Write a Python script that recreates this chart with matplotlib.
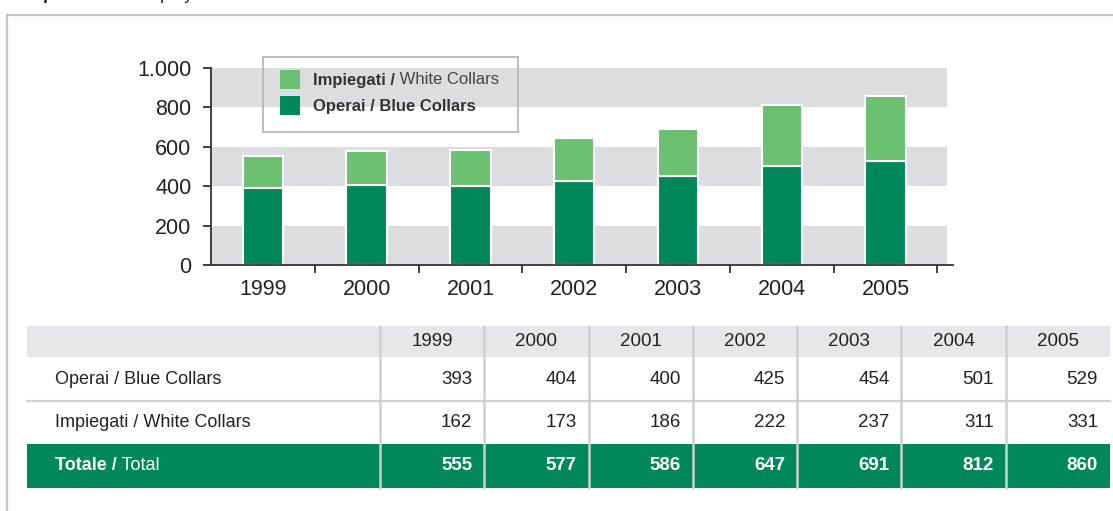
"""Employees by category, 1999-2005: stacked bars plus summary table."""
import matplotlib
matplotlib.use('Agg')
import matplotlib.pyplot as plt
import matplotlib.ticker as mticker
from matplotlib.patches import Rectangle

plt.rcParams['font.family'] = ['Liberation Sans', 'DejaVu Sans']

years = ["1999", "2000", "2001", "2002", "2003", "2004", "2005"]
operai = [393, 404, 400, 425, 454, 501, 529]
impiegati = [162, 173, 186, 222, 237, 311, 331]
totale = [555, 577, 586, 647, 691, 812, 860]
y_ticks = [0, 200, 400, 600, 800, 1000]

DARK = "#00885a"
LIGHT = "#6cc072"
BAND = "#dcdddf"
HEAD = "#e6e7e9"
SEP = "#cfd0d2"
TXT = "#222222"

W, H = 1113, 511
fig = plt.figure(figsize=(W / 100, H / 100), dpi=100)


def pixel_axes(z):
    """Full-figure axes measured in pixels from the top-left corner."""
    a = fig.add_axes([0, 0, 1, 1], zorder=z)
    a.set_xlim(0, W)
    a.set_ylim(H, 0)
    a.axis("off")
    a.patch.set_alpha(0)
    return a


ov = pixel_axes(0)

# panel frame
ov.plot([7, 7, W + 5], [H + 5, 15, 15], color="#c6c6c6", lw=1.6,
        solid_joinstyle="miter")

# title above the panel, cut by the top edge as in the source
t = fig.text(25 / W, 1 + 1 / H, "Dipendenti /", fontsize=13, fontweight="bold",
             color=TXT, va="baseline")
ov.annotate(" Employees", xy=(1, 0), xycoords=t, fontsize=13, color=TXT,
            va="bottom", annotation_clip=False)

# ---- bar chart ----
ax = fig.add_axes([211 / W, 1 - 265 / H, (953 - 211) / W, (265 - 68) / H], zorder=1)
ax.patch.set_alpha(0)
x = list(range(len(years)))
for lo in (0, 400, 800):
    ax.axhspan(lo, lo + 200, xmin=0, xmax=0.992, color=BAND, lw=0, zorder=0)
ax.bar(x, operai, width=0.39, color=DARK, edgecolor="white", lw=1.5, zorder=2)
ax.bar(x, impiegati, bottom=operai, width=0.39, color=LIGHT, edgecolor="white",
       lw=1.5, zorder=2)

ax.set_xlim(-0.5, 6.65)
ax.set_ylim(0, 1000)
ax.set_yticks(y_ticks)
ax.yaxis.set_major_formatter(mticker.FuncFormatter(
    lambda v, _: f"{v:,.0f}".replace(",", ".")))
ax.set_xticks([i + 0.5 for i in x])
ax.set_xticklabels([])
ax.set_xticks(x, minor=True)
ax.set_xticklabels(years, minor=True)
ax.tick_params(axis="x", which="minor", length=0, pad=10, labelsize=15.5,
               labelcolor=TXT)
ax.tick_params(axis="x", which="major", length=6, width=1.3, color="#333333",
               direction="out")
ax.tick_params(axis="y", length=6, width=1.3, color="#333333", pad=8,
               labelsize=15.5, labelcolor=TXT)
ax.spines[["top", "right"]].set_visible(False)
for s in ("left", "bottom"):
    ax.spines[s].set_linewidth(1.3)
    ax.spines[s].set_color("#333333")

# ---- legend (drawn by hand for mixed font weights) ----
lg = pixel_axes(3)
lg.add_patch(Rectangle((263, 57), 255, 75, fill=False, ec="#b9b9b9", lw=1.3))
lg.add_patch(Rectangle((280, 70), 20, 19, color=LIGHT, lw=0))
lg.add_patch(Rectangle((280, 96), 20, 19, color=DARK, lw=0))
l1 = lg.text(313, 80, "Impiegati /", fontsize=12, fontweight="bold",
             color="#333333", va="center")
lg.annotate(" White Collars", xy=(1, 0), xycoords=l1, fontsize=12,
            color="#444444", va="bottom")
lg.text(313, 107, "Operai / Blue Collars", fontsize=12, fontweight="bold",
        color="#333333", va="center")

# ---- table ----
left, lab_right, right = 27, 380, 1110
col_w = (right - lab_right) / len(years)
row_y = [326, 357, 401, 444, 488]
col_x = [lab_right + i * col_w for i in range(len(years) + 1)]

ov.add_patch(Rectangle((left, row_y[0]), right - left, row_y[1] - row_y[0],
                       color=HEAD, lw=0))
ov.add_patch(Rectangle((left, row_y[3]), right - left, row_y[4] - row_y[3],
                       color=DARK, lw=0))
ov.plot([left, right], [row_y[2], row_y[2]], color=SEP, lw=1.6)
for cx in col_x[:-1]:
    ov.plot([cx, cx], [row_y[0], row_y[4]], color=SEP, lw=1.8)

fs = 13.5
for i, yr in enumerate(years):
    c0, c1 = col_x[i], col_x[i + 1]
    ov.text((c0 + c1) / 2, (row_y[0] + row_y[1]) / 2, yr, fontsize=fs,
            color=TXT, ha="center", va="center")
    ov.text(c1 - 12, (row_y[1] + row_y[2]) / 2, str(operai[i]), fontsize=fs,
            color=TXT, ha="right", va="center")
    ov.text(c1 - 12, (row_y[2] + row_y[3]) / 2, str(impiegati[i]), fontsize=fs,
            color=TXT, ha="right", va="center")
    ov.text(c1 - 12, (row_y[3] + row_y[4]) / 2, str(totale[i]), fontsize=fs,
            color="white", fontweight="bold", ha="right", va="center")

ov.text(55, (row_y[1] + row_y[2]) / 2, "Operai / Blue Collars", fontsize=13,
        color=TXT, va="center")
ov.text(55, (row_y[2] + row_y[3]) / 2, "Impiegati / White Collars", fontsize=13,
        color=TXT, va="center")
tt = ov.text(55, (row_y[3] + row_y[4]) / 2, "Totale /", fontsize=13,
             color="white", fontweight="bold", va="center")
ov.annotate(" Total", xy=(1, 0), xycoords=tt, fontsize=13, color="white",
            va="bottom")

fig.savefig("out.png", dpi=100)
